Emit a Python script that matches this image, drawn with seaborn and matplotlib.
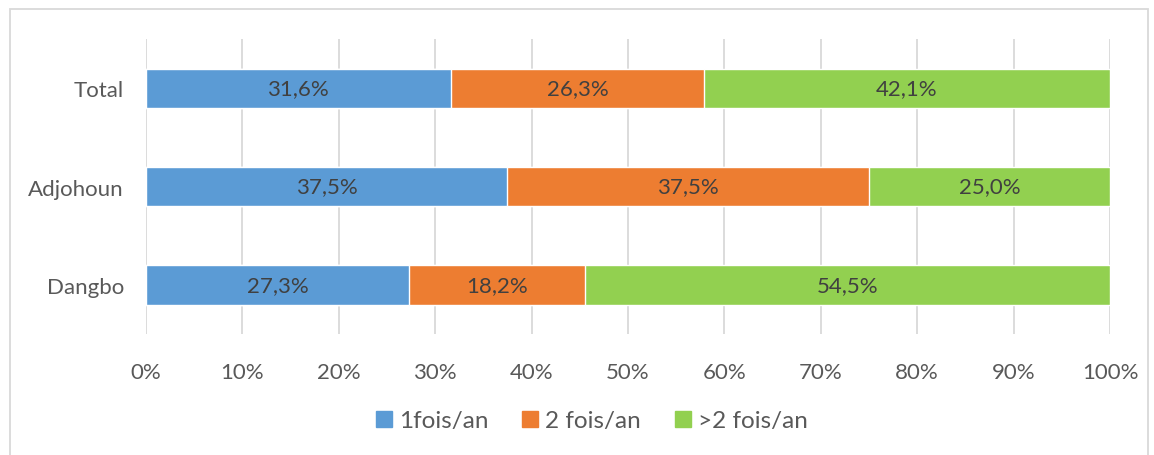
import matplotlib.pyplot as plt
import matplotlib.patches as mpatches
import numpy as np
import pandas as pd
import seaborn as sns

categories = ["Total", "Adjohoun", "Dangbo"]
series_names = ["1fois/an", "2 fois/an", ">2 fois/an"]
once = [31.6, 37.5, 27.3]
twice = [26.3, 37.5, 18.2]
more = [42.1, 25.0, 54.5]
tick_labels = [f"{v}%" for v in range(0, 101, 10)]

colors = ["#5B9BD5", "#ED7D31", "#92D050"]
text_color = "#595959"

sns.set_style("white")
plt.rcParams["font.family"] = ["Lato", "DejaVu Sans"]

values = np.array([once, twice, more])
cumulative = values.cumsum(axis=0)

fig = plt.figure(figsize=(11.54, 4.56), dpi=100)
ax = fig.add_axes([146 / 1154, 1 - 335 / 456, 964 / 1154, 295 / 456])

# draw from the full stack down so each layer covers the one behind it
for i in range(2, -1, -1):
    df = pd.DataFrame({"category": categories, "value": cumulative[i]})
    sns.barplot(data=df, x="value", y="category", orient="h", color=colors[i],
                saturation=1, width=0.4, ax=ax, zorder=2)

for i in range(3):
    for j, cat in enumerate(categories):
        center = cumulative[i][j] - values[i][j] / 2
        label = f"{values[i][j]:.1f}%".replace(".", ",")
        ax.text(center, j, label, ha="center", va="center",
                fontsize=16, color="#404040", zorder=3)

ax.set_xlim(0, 100)
ax.set_ylim(2.5, -0.5)
ax.set_xticks(range(0, 101, 10))
ax.set_xticklabels(tick_labels)
ax.xaxis.grid(True, color="#D9D9D9", linewidth=1.3, zorder=0)
ax.set_axisbelow(True)
for spine in ax.spines.values():
    spine.set_visible(False)
ax.set_xlabel("")
ax.set_ylabel("")
ax.tick_params(axis="both", length=0, labelsize=16, labelcolor=text_color)
ax.tick_params(axis="x", pad=20)
ax.tick_params(axis="y", pad=16)

handles = [mpatches.Patch(color=c, label=n) for c, n in zip(colors, series_names)]
fig.legend(handles=handles, loc="center", bbox_to_anchor=(592 / 1154, 1 - 422 / 456),
           ncol=3, frameon=False, fontsize=17.5, labelcolor=text_color,
           handlelength=0.65, handleheight=0.65, handletextpad=0.3, columnspacing=1.4)

border = mpatches.Rectangle((10 / 1154, -0.05), 1138 / 1154, 1.05 - 10 / 456,
                            transform=fig.transFigure, fill=False,
                            edgecolor="#D9D9D9", linewidth=1.3)
fig.patches.append(border)

fig.savefig("out.png", dpi=100)
